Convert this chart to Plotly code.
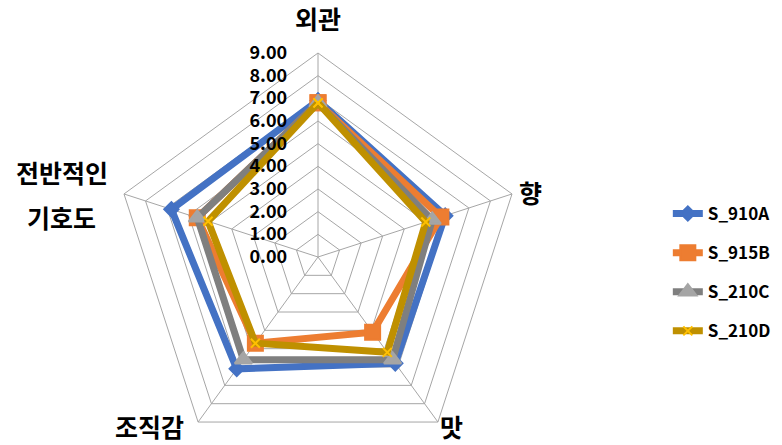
import plotly.graph_objects as go

categories = ["외관", "향", "맛", "조직감", "전반적인 기호도"]
series_names = ["S_910A", "S_915B", "S_210C", "S_210D"]
s_910a = [6.9, 5.9, 5.8, 6.1, 6.8]
s_915b = [6.8, 5.7, 4.1, 4.7, 5.6]
s_210c = [6.8, 5.3, 5.6, 5.6, 5.6]
s_210d = [6.8, 5.0, 5.2, 4.7, 5.1]
radial_ticks = [0, 1, 2, 3, 4, 5, 6, 7, 8, 9]

# category label text lines and their pixel centres (x, y from top-left)
label_lines = ["외관", "향", "맛", "조직감", "전반적인", "기호도"]
label_pos = [(318, 18), (530, 192), (452, 426), (149, 426), (62, 172), (61, 217)]

series_values = [s_910a, s_915b, s_210c, s_210d]
line_colors = ["#4472C4", "#ED7D31", "#7F7F7F", "#BF9000"]
marker_colors = ["#4472C4", "#ED7D31", "#A5A5A5", "#FFC000"]
marker_symbols = ["diamond", "square", "triangle-up", "x-thin-open"]
marker_sizes = [11, 15, 15, 9]

W, H = 782, 470
cx, cy, R = 318, 257, 204

fig = go.Figure()
for name, vals, lc, mc, sym, ms in zip(series_names, series_values, line_colors,
                                       marker_colors, marker_symbols, marker_sizes):
    fig.add_trace(go.Scatterpolar(
        r=vals + vals[:1],
        theta=categories + categories[:1],
        name=name,
        mode="lines+markers",
        line=dict(color=lc, width=7),
        marker=dict(color=mc, symbol=sym, size=ms,
                    line=dict(color=mc, width=2)),
        legendgroup=name,
    ))

for txt, (px, py) in zip(label_lines, label_pos):
    fig.add_annotation(
        text=txt, x=px / W, y=1 - py / H, xref="paper", yref="paper",
        xanchor="center", yanchor="middle", showarrow=False,
        font=dict(size=25, weight=700, color="black", family="Noto Sans CJK KR"),
    )

fig.update_layout(
    width=W, height=H,
    margin=dict(l=0, r=0, t=0, b=0),
    paper_bgcolor="white",
    font=dict(family="Noto Sans CJK KR", color="black"),
    polar=dict(
        domain=dict(x=[(cx - R) / W, (cx + R) / W],
                    y=[(H - cy - R) / H, (H - cy + R) / H]),
        bgcolor="white",
        gridshape="linear",
        angularaxis=dict(
            direction="clockwise", rotation=90,
            showticklabels=False,
            showline=True, linecolor="#A6A6A6", linewidth=1,
            gridcolor="#A6A6A6", gridwidth=1, ticks="",
        ),
        radialaxis=dict(
            range=[0, 9], tickvals=radial_ticks, tickformat=".2f",
            angle=90, tickangle=90, side="counterclockwise",
            showline=False, gridcolor="#A6A6A6", gridwidth=1,
            ticks="outside", ticklen=24, tickcolor="rgba(0,0,0,0)",
            tickfont=dict(size=18, weight=700, color="black"),
        ),
    ),
    legend=dict(
        x=0.854, y=1 - 196 / H, xanchor="left", yanchor="top",
        font=dict(size=17, weight=700, color="black"),
        traceorder="grouped", tracegroupgap=14,
        bgcolor="rgba(0,0,0,0)",
    ),
)

fig.write_html("out.html", post_script="document.body.style.overflow='hidden';document.body.style.margin='0';")
